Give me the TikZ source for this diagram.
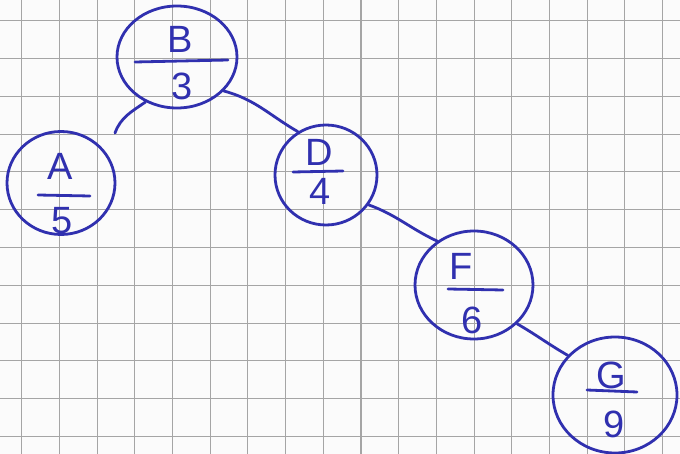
\documentclass[tikz,border=0pt]{standalone}
\usepackage{fontspec}
\setmainfont{Liberation Sans}
\usetikzlibrary{shapes.geometric}
\definecolor{ink}{RGB}{48,48,175}
\definecolor{gridc}{RGB}{165,165,165}
\tikzset{
  vertex/.style={ellipse, draw=ink, line width=2.8pt, inner sep=0pt},
  conn/.style={draw=ink, line width=2.8pt, line cap=round},
  fracrule/.style={draw=ink, line width=2.8pt, line cap=round},
  lbl/.style={text=ink, anchor=base, inner sep=0pt, font=\fontsize{38}{40}\selectfont}
}
\begin{document}
\begin{tikzpicture}[x=1pt,y=1pt]
\useasboundingbox (0,0) rectangle (680,-454);
\fill[white!97!gray] (0,0) rectangle (680,-454);
% grid paper
\foreach \i in {0,...,17} {\draw[gridc, line width=1.1pt] ({21.7+37.7*\i},0) -- ({21.7+37.7*\i},-454);}
\foreach \j in {0,...,11} {\draw[gridc, line width=1.1pt] (0,{-20.7-37.8*\j}) -- (680,{-20.7-37.8*\j});}
% vertices
\node[vertex, minimum width=120pt, minimum height=102pt] (B) at (177,-57) {};
\node[vertex, minimum width=108pt, minimum height=103pt] (A) at (61,-183) {};
\node[vertex, minimum width=102pt, minimum height=100pt] (D) at (326,-175) {};
\node[vertex, minimum width=118pt, minimum height=108pt] (F) at (474,-285) {};
\node[vertex, minimum width=124pt, minimum height=116pt] (G) at (615,-395) {};
% labels
\node[lbl] (Bl) at (180,-53) {B};
\draw[fracrule] (135,-62) -- (228,-60);
\node[lbl] (Bn) at (182,-100) {3};
\node[lbl] (Al) at (60,-180) {A};
\draw[fracrule] (38,-195) -- (90,-196);
\node[lbl] (An) at (62,-234) {5};
\node[lbl] (Dl) at (319,-166) {D};
\draw[fracrule] (293,-172) -- (343,-171);
\node[lbl] (Dn) at (320,-205) {4};
\node[lbl] (Fl) at (461,-280) {F};
\draw[fracrule] (448,-289) -- (503,-290);
\node[lbl] (Fn) at (472,-334) {6};
\node[lbl] (Gl) at (611,-388) {G};
\draw[fracrule] (587,-390) -- (637,-392);
\node[lbl] (Gn) at (614,-437) {9};
% connectors
\coordinate (aend) at (115,-133);
\draw[conn] (B.235) to[out=215, in=70] (aend);
\draw[conn] (B.-36) to[out=-15, in=150] (D.123);
\draw[conn] (D.-35) to[out=-20, in=155] (F.130);
\draw[conn] (F.-42) to[out=-30, in=150] (G.140);
\end{tikzpicture}
\end{document}
